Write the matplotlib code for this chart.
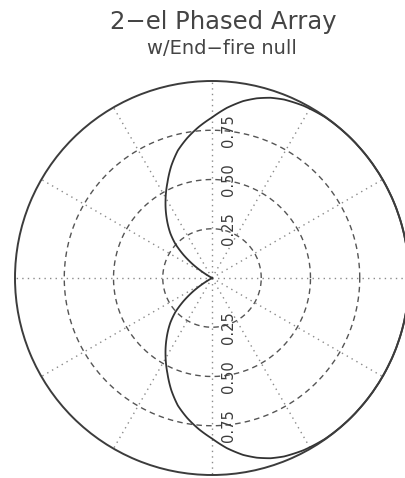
import numpy as np
import matplotlib
matplotlib.use('Agg')
import matplotlib.pyplot as plt
from matplotlib import transforms

# pattern read off the upper half of the picture (degrees, relative field)
# lower half is the mirror image
theta_deg = [0, 15, 30, 45, 55, 62, 68, 72, 76, 80, 85, 90, 95, 100, 105,
             110, 115, 121, 127, 133, 137, 141, 145, 148, 150]
rel_field = [1.00, 1.00, 1.00, 1.00, 0.998, 0.99, 0.977, 0.962, 0.94, 0.912,
             0.867, 0.815, 0.77, 0.722, 0.67, 0.605, 0.535, 0.458, 0.383,
             0.31, 0.255, 0.185, 0.11, 0.05, 0.0]

ring_values = [0.25, 0.5, 0.75]
ring_labels = ['0.25', '0.50', '0.75']
spoke_deg = list(range(0, 360, 30))

title_1 = '2\u2212el Phased Array'
title_2 = 'w/End\u2212fire null'

# build the closed curve: upper half then mirrored lower half
th_up = np.radians(theta_deg)
r_up = np.array(rel_field)
th_all = np.concatenate([-th_up[::-1], th_up[1:]])
r_all = np.concatenate([r_up[::-1], r_up[1:]])

fig = plt.figure(figsize=(4.06, 4.78), dpi=100)
# centre ~ (212, 278) px, radius ~ 197 px
ax = fig.add_axes([15 / 406, 3 / 478, 394 / 406, 394 / 478], projection='polar')
ax.set_ylim(0, 1)
ax.grid(False)
ax.set_xticks([])
ax.set_yticks([])
ax.spines['polar'].set_color('#3c3c3c')
ax.spines['polar'].set_linewidth(1.4)
ax.patch.set_alpha(0)

full = np.linspace(0, 2 * np.pi, 361)
for rv in ring_values:
    ax.plot(full, np.full_like(full, rv), color='#555555', lw=1.0,
            linestyle=(0, (4, 3)))

for sd in spoke_deg:
    ax.plot([np.radians(sd), np.radians(sd)], [0, 1], color='#8a8a8a',
            lw=1.0, linestyle=(0, (1, 3)))

pat, = ax.plot(th_all, r_all, color='#333333', lw=1.3, clip_on=False)
# let the polar transform draw each segment as a smooth arc
pat.get_path()._interpolation_steps = 40

# ring labels along the vertical axis, rotated
off = transforms.offset_copy(ax.transData, fig=fig, x=9, y=0, units='dots')
for rv, lab in zip(ring_values, ring_labels):
    for ang in (np.pi / 2, 3 * np.pi / 2):
        ax.text(ang, rv, lab, transform=off, rotation=90, ha='left',
                va='center', fontsize=10.5, color='#3c3c3c')

fig.text(0.549, 0.954, title_1, ha='center', va='center', fontsize=17.5,
         color='#444444')
fig.text(0.546, 0.899, title_2, ha='center', va='center', fontsize=14,
         color='#444444')

fig.savefig('out.png', dpi=100)
